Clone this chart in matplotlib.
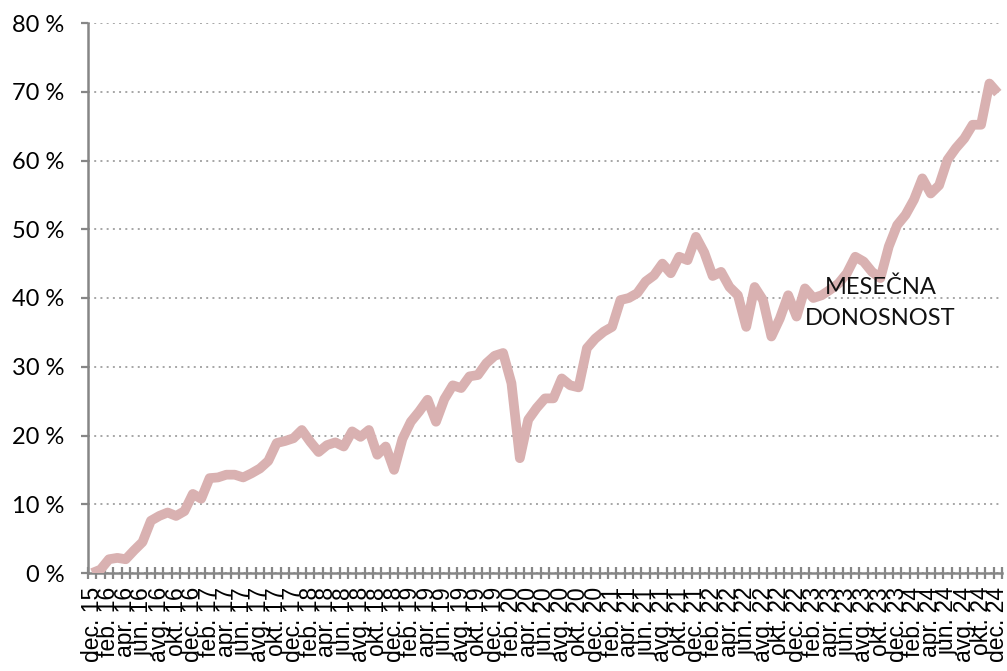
import numpy as np
import matplotlib.pyplot as plt
from matplotlib.ticker import FixedLocator

# monthly cumulative return, dec 2015 .. dec 2024 (%)
returns = [
    0.0, 0.5, 2.0, 2.2, 2.0, 3.3, 4.5, 7.6, 8.3, 8.8, 8.3, 9.0,          # dec15-nov16
    11.5, 10.8, 13.8, 13.9, 14.3, 14.3, 13.9, 14.5, 15.2, 16.3, 18.9, 19.2,  # dec16-nov17
    19.6, 20.8, 19.1, 17.6, 18.6, 19.0, 18.4, 20.6, 19.8, 20.8, 17.2, 18.4,  # dec17-nov18
    15.0, 19.5, 22.0, 23.5, 25.2, 22.0, 25.3, 27.3, 26.9, 28.6, 28.8, 30.5,  # dec18-nov19
    31.6, 32.0, 27.6, 16.7, 22.3, 24.0, 25.4, 25.4, 28.3, 27.3, 27.0, 32.7,  # dec19-nov20
    34.1, 35.1, 35.8, 39.7, 40.0, 40.7, 42.4, 43.3, 45.0, 43.6, 46.0, 45.5,  # dec20-nov21
    48.9, 46.6, 43.2, 43.8, 41.6, 40.4, 35.8, 41.6, 39.7, 34.4, 37.0, 40.4,  # dec21-nov22
    37.3, 41.4, 40.0, 40.4, 41.2, 42.1, 43.6, 46.0, 45.3, 43.8, 42.9, 47.5,  # dec22-nov23
    50.6, 52.1, 54.3, 57.4, 55.2, 56.4, 60.1, 61.8, 63.2, 65.2, 65.2, 71.2,  # dec23-nov24
    69.8,                                                                  # dec24
]

month_names = ["jan.", "feb.", "mar.", "apr.", "maj.", "jun.",
               "jul.", "avg.", "sep.", "okt.", "nov.", "dec."]
start_year = 2015
start_month = 12

labels = []
for k in range(len(returns)):
    m = (start_month - 1 + k) % 12
    y = start_year + (start_month - 1 + k) // 12
    labels.append(f"{month_names[m]} {y % 100}")

y_ticks = [0, 10, 20, 30, 40, 50, 60, 70, 80]
annotation = "MESEČNA\nDONOSNOST"

grey = "#868686"
x = np.arange(len(returns))

fig = plt.figure(figsize=(10.07, 6.71), dpi=100)
ax = fig.add_axes([88 / 1007, 98 / 671, 914 / 1007, 550 / 671])

ax.plot(x, returns, color="#D9B1B1", lw=7, solid_joinstyle="round",
        solid_capstyle="butt", zorder=3)

ax.set_xlim(-0.5, len(returns) - 0.5)
ax.set_ylim(0, 80)

ax.set_yticks(y_ticks)
ax.set_yticklabels([f"{v} %" for v in y_ticks], family="Lato", fontsize=17)
ax.yaxis.grid(True, color="#a6a6a6", linestyle=(0, (1, 2.2)), lw=1.4)
ax.set_axisbelow(True)

ax.set_xticks(x[::2])
ax.set_xticklabels(labels[::2], rotation=90, va="top", ha="center",
                   family="Liberation Sans", fontsize=16.5)
ax.xaxis.set_minor_locator(FixedLocator(np.arange(-0.5, len(returns), 1)))
ax.tick_params(axis="x", which="major", length=0, pad=10)
ax.tick_params(axis="x", which="minor", direction="inout", length=8,
               width=1.6, color=grey)
ax.tick_params(axis="y", which="major", direction="out", length=5,
               width=1.6, color=grey, pad=12)

for s in ["top", "right"]:
    ax.spines[s].set_visible(False)
for s in ["left", "bottom"]:
    ax.spines[s].set_color(grey)
    ax.spines[s].set_linewidth(1.8)

ax.text(94.0, 39.3, annotation, ha="center", va="center", family="Lato",
        fontsize=17, color="#111111", linespacing=1.6, zorder=4)

fig.savefig("out.png", dpi=100)
